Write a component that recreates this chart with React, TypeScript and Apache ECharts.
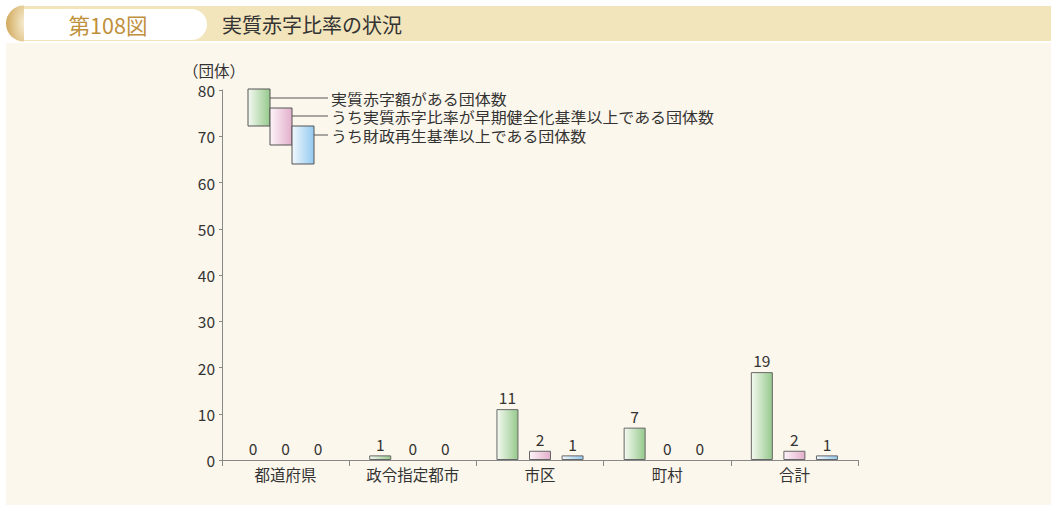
import React, { useEffect, useRef } from "react";
import * as echarts from "echarts";

const categories = ["都道府県", "政令指定都市", "市区", "町村", "合計"];
const deficitCount = [0, 1, 11, 7, 19];
const earlyHealthCount = [0, 0, 2, 0, 2];
const rebuildCount = [0, 0, 1, 0, 1];
const seriesNames = [
  "実質赤字額がある団体数",
  "うち実質赤字比率が早期健全化基準以上である団体数",
  "うち財政再生基準以上である団体数",
];
const yMax = 80;
const yInterval = 10;

const FONT = "'Noto Sans CJK JP', 'Noto Sans', sans-serif";
const FS = 15.5;

function grad(a: string, b: string) {
  return new echarts.graphic.LinearGradient(0, 0, 1, 0, [
    { offset: 0, color: a },
    { offset: 1, color: b },
  ]);
}

const colors = [
  ["#f4f9f1", "#96c98c"],
  ["#fdf3f8", "#e3afcb"],
  ["#f1f8fe", "#93c9ef"],
];

export default function App() {
  const ref = useRef<HTMLDivElement>(null);
  useEffect(() => {
    if (!ref.current) return;
    const chart = echarts.init(ref.current, null, { renderer: "svg" });
    const data = [deficitCount, earlyHealthCount, rebuildCount];
    const legendBoxes = [
      { x: 248, y: 89, h: 37, lineY: 98 },
      { x: 270, y: 108, h: 37, lineY: 116 },
      { x: 292, y: 126, h: 38, lineY: 135 },
    ];
    const legendGraphics: any[] = [];
    legendBoxes.forEach((b, i) => {
      legendGraphics.push({
        type: "line",
        shape: { x1: b.x + 22, y1: b.lineY, x2: 328, y2: b.lineY },
        style: { stroke: "#555", lineWidth: 1 },
        z: 10,
      });
      legendGraphics.push({
        type: "rect",
        shape: { x: b.x, y: b.y, width: 22, height: b.h },
        style: {
          fill: grad(colors[i][0], colors[i][1]),
          stroke: "#555",
          lineWidth: 1,
        },
        z: 11,
      });
      legendGraphics.push({
        type: "text",
        x: 331,
        y: b.lineY,
        scaleX: 1.065,
        style: {
          text: seriesNames[i],
          fontSize: 15,
          lineHeight: 16,
          fontFamily: FONT,
          fill: "#333",
          verticalAlign: "middle",
        },
        z: 11,
      });
    });

    chart.setOption({
      animation: false,
      backgroundColor: "#ffffff",
      graphic: [
        {
          type: "rect",
          shape: { x: 6, y: 43, width: 1045, height: 462 },
          style: { fill: "#fcf7ec" },
          z: -10,
        },
        {
          type: "rect",
          shape: { x: 24, y: 6, width: 1027, height: 35 },
          style: { fill: "#f2e4bb" },
          z: -10,
        },
        {
          type: "sector",
          shape: { cx: 24, cy: 23.5, r0: 0, r: 18, startAngle: Math.PI / 2, endAngle: (Math.PI * 3) / 2 },
          style: {
            fill: new echarts.graphic.RadialGradient(1, 0.5, 1, [
              { offset: 0, color: "#f6ecd0" },
              { offset: 1, color: "#d2a95c" },
            ]),
          },
          z: -9,
        },
        {
          type: "rect",
          shape: { x: 24, y: 9, width: 183, height: 31, r: [0, 15.5, 15.5, 0] },
          style: { fill: "#ffffff" },
          z: -9,
        },
        {
          type: "text",
          x: 108,
          y: 24.5,
          style: {
            text: "第108図",
            fontSize: 21.5,
            fontFamily: FONT,
            fill: "#c0903c",
            align: "center",
            verticalAlign: "middle",
          },
        },
        {
          type: "text",
          x: 222,
          y: 24.5,
          style: {
            text: "実質赤字比率の状況",
            fontSize: 20,
            fontFamily: FONT,
            fill: "#333",
            verticalAlign: "middle",
          },
        },
        {
          type: "text",
          x: 183,
          y: 70,
          style: {
            text: "（団体）",
            fontSize: FS,
            fontFamily: FONT,
            fill: "#333",
            verticalAlign: "middle",
          },
        },
        ...legendGraphics,
      ],
      grid: { left: 222, right: 198, top: 90, bottom: 51 },
      xAxis: {
        type: "category",
        data: categories,
        axisLine: { lineStyle: { color: "#888", width: 1 } },
        axisTick: { show: true, length: 6, lineStyle: { color: "#888" } },
        axisLabel: { fontSize: FS, fontFamily: FONT, color: "#333", margin: 6 },
      },
      yAxis: {
        type: "value",
        min: 0,
        max: yMax,
        interval: yInterval,
        axisLine: { show: true, lineStyle: { color: "#888", width: 1 } },
        axisTick: { show: true, length: 3, lineStyle: { color: "#888" } },
        splitLine: { show: false },
        axisLabel: { fontSize: FS, fontFamily: FONT, color: "#333", margin: 7 },
      },
      series: data.map((d, i) => ({
        type: "bar",
        name: seriesNames[i],
        data: d.map((v) =>
          v === 0
            ? { value: v, itemStyle: { borderColor: "transparent", borderWidth: 0 } }
            : v
        ),
        barWidth: 22,
        barGap: "48%",
        itemStyle: {
          color: grad(colors[i][0], colors[i][1]),
          borderColor: "#666",
          borderWidth: 1,
        },
        label: {
          show: true,
          position: "top",
          distance: 4,
          fontSize: FS,
          fontFamily: FONT,
          color: "#333",
        },
      })),
    });
    return () => chart.dispose();
  }, []);
  return (
    <div
      ref={ref}
      style={{ position: "fixed", left: 0, top: 0, width: 1056, height: 511 }}
    />
  );
}
